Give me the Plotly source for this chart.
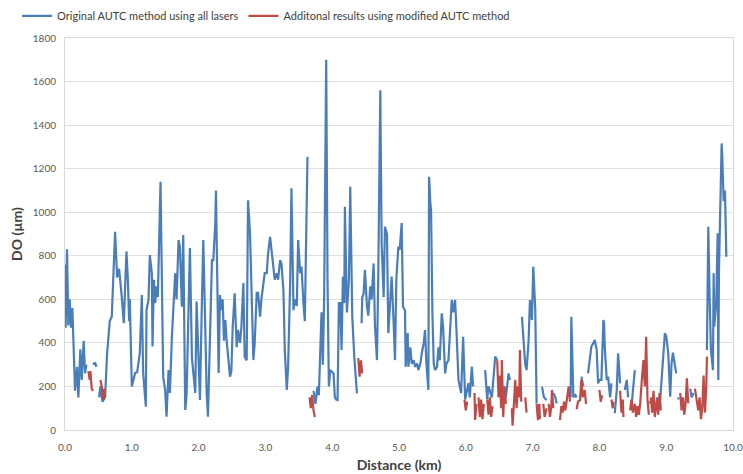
import plotly.graph_objects as go

N = None
# Blue series: Original AUTC method using all lasers (distance km, DO µm); None = gap
blue_x = [0.00,0.01,0.03,0.05,0.07,0.09,0.11,0.13,0.15,0.18,0.20,0.23,0.25,0.28,0.30,0.32,N,
          0.42,0.45,0.47,N,
          0.51,0.53,0.56,0.60,0.63,0.67,0.70,0.75,0.78,0.81,0.85,0.88,0.92,0.94,0.96,0.97,1.00,
          1.05,1.08,1.12,1.15,1.17,1.21,1.22,1.25,1.27,1.30,1.31,1.33,1.35,1.37,1.39,1.43,1.46,1.47,1.50,1.52,1.55,1.57,1.60,
          1.65,1.67,1.70,1.72,1.75,1.77,1.80,1.82,1.83,1.87,1.90,1.92,1.95,1.97,1.99,2.02,2.05,2.07,2.10,2.12,2.14,2.15,2.17,
          2.20,2.22,2.25,2.26,2.27,2.30,2.32,2.34,2.36,2.38,2.40,2.42,2.47,2.49,2.51,2.54,2.57,2.59,2.62,2.64,2.67,2.69,2.72,
          2.74,2.77,2.79,2.82,2.84,2.87,2.89,2.92,2.94,2.97,2.99,3.02,3.04,3.07,3.09,3.12,3.14,3.17,3.19,3.22,3.24,3.27,3.29,
          3.32,3.34,3.37,3.39,3.42,3.44,3.47,3.49,3.52,3.54,3.57,3.59,3.63,N,
          3.72,3.75,3.78,3.80,3.84,3.86,3.88,3.91,3.93,3.95,3.97,4.02,4.04,4.06,4.08,4.10,4.12,4.14,4.16,4.18,4.19,4.22,4.25,
          4.27,4.30,4.33,4.37,N,
          4.44,4.45,4.47,4.49,4.52,4.54,4.57,4.59,4.62,4.64,4.67,4.69,4.72,4.74,4.77,4.79,4.82,4.84,4.87,4.89,4.92,4.94,4.96,
          4.99,5.01,5.04,5.06,5.09,5.10,5.13,5.14,5.17,5.19,5.22,5.24,5.27,5.29,5.32,5.34,5.37,5.39,5.41,5.44,5.45,5.47,5.48,
          5.50,5.52,5.54,5.57,5.59,5.61,5.64,5.66,5.69,5.71,5.74,5.76,5.79,5.81,5.84,5.86,5.89,5.91,5.93,5.96,5.99,6.01,6.04,
          6.06,6.09,6.11,N,
          6.29,6.32,6.34,6.37,6.39,6.42,6.44,6.47,N,
          6.57,6.60,6.64,6.66,N,
          6.84,6.86,6.89,6.91,6.94,6.96,6.99,7.01,7.04,7.06,N,
          7.14,7.17,7.21,N,7.31,7.34,7.36,N,
          7.51,N,7.57,7.58,7.61,7.64,7.66,N,7.73,7.76,N,
          7.83,7.86,7.88,7.91,7.93,7.96,7.98,8.00,8.03,8.06,8.07,8.08,8.11,8.13,8.16,8.18,N,
          8.23,8.26,8.28,8.31,N,8.38,8.41,8.43,N,8.48,8.51,8.53,N,
          8.75,8.78,N,8.86,8.88,8.91,8.95,8.98,9.00,9.03,9.06,9.08,9.10,9.13,9.15,N,
          9.18,9.185,N,9.36,9.38,9.41,N,
          9.61,9.63,9.65,9.67,9.70,9.71,9.72,9.75,9.77,9.78,9.79,9.81,9.83,9.84,9.85,9.86,9.88,9.90]
blue_y = [760,470,830,480,600,470,560,300,180,290,150,370,230,410,260,300,N,
          300,310,290,N,
          150,200,130,150,350,500,520,910,700,740,610,490,820,700,500,600,200,
          262,265,353,620,262,107,551,597,803,720,383,690,583,660,610,1140,400,245,180,61,275,170,428,
          720,600,872,840,566,895,92,160,300,836,330,270,170,590,360,138,597,872,470,175,61,170,413,
          780,780,950,1100,900,262,620,550,600,410,505,410,245,270,470,628,380,460,400,470,675,335,320,
          1055,900,670,321,400,630,630,520,600,690,720,720,810,887,825,750,690,720,690,780,765,640,370,
          184,290,670,1110,550,600,570,872,720,750,580,500,1255,N,
          180,120,200,160,540,300,620,1700,700,200,275,260,150,140,138,583,583,367,704,583,1025,540,690,
          1117,525,340,168,N,
          490,610,625,735,570,525,660,600,765,480,321,720,1560,860,610,933,900,445,600,705,490,321,690,
          842,827,950,566,550,291,445,290,380,305,320,290,305,275,305,350,400,459,305,184,1163,1040,1010,
          540,305,275,290,380,320,536,475,260,305,320,415,597,540,597,460,230,200,170,428,140,170,215,
          150,291,200,N,
          275,140,200,170,150,260,337,320,N,
          200,150,260,230,N,
          520,410,300,275,410,597,505,750,551,122,N,
          199,150,137,N,170,150,122,N,
          153,N,150,520,150,160,150,N,245,200,N,
          260,330,383,400,413,367,214,230,230,505,490,383,230,245,150,214,N,
          77,184,352,214,N,184,230,150,N,107,200,275,N,
          122,140,N,150,120,140,300,444,430,355,153,306,355,306,260,N,
          140,150,N,190,150,170,N,
          367,933,610,367,275,720,475,595,903,230,735,1085,1316,1255,1085,1050,1100,796]

# Red series: Additional results using modified AUTC method
red_x = [0.35,0.37,0.38,0.40,0.42,N,
         0.53,0.55,0.57,0.59,0.60,N,
         3.66,3.68,3.70,3.72,3.74,N,
         4.39,4.41,4.43,4.45,N,
         5.98,6.00,6.02,N,
         6.13,6.14,6.16,N,6.19,6.21,6.23,6.25,6.27,N,6.32,6.34,6.36,6.38,6.40,N,
         6.47,6.49,6.51,6.53,6.54,6.56,6.58,6.60,N,
         6.69,6.70,6.72,6.74,6.76,6.78,6.80,6.81,6.83,N,6.89,6.91,N,
         7.06,7.08,7.10,7.11,N,7.16,7.18,7.21,N,7.24,7.26,7.28,7.29,7.31,N,
         7.41,7.43,7.45,7.47,7.49,7.52,7.54,7.56,N,
         7.66,7.68,7.71,7.73,7.75,7.78,7.80,N,
         8.00,8.02,8.04,N,8.18,8.20,8.21,N,8.31,8.33,8.35,8.36,N,
         8.46,8.48,8.50,8.53,8.55,8.57,8.59,8.61,8.64,8.66,8.68,8.70,8.72,8.74,N,
         8.77,8.79,8.81,8.83,8.86,8.88,8.90,8.92,N,
         9.21,9.23,9.25,9.27,9.29,9.31,9.33,N,
         9.43,9.45,9.48,9.50,9.52,9.54,9.56,9.58,9.60,9.61]
red_y = [270,230,270,190,180,N,
         230,200,140,190,150,N,
         150,100,160,90,60,N,
         330,245,320,260,N,
         140,90,130,N,
         170,46,120,N,150,60,140,50,120,N,140,70,150,60,110,N,
         320,150,250,100,321,60,200,120,N,
         100,20,120,230,100,200,150,367,130,N,150,80,N,
         120,45,120,50,N,120,60,100,N,120,60,110,184,100,N,
         45,110,80,130,90,150,200,130,N,
         95,130,137,230,150,184,120,N,
         184,130,160,N,140,100,130,N,180,80,140,60,N,
         90,140,80,120,60,110,70,120,250,321,200,428,140,70,N,
         150,80,180,60,140,70,170,90,N,
         170,90,150,70,120,237,123,N,
         190,150,90,150,50,100,250,80,200,337]

y_ticks = [0, 200, 400, 600, 800, 1000, 1200, 1400, 1600, 1800]
x_ticks = [0, 1, 2, 3, 4, 5, 6, 7, 8, 9, 10]

BLUE = "#4a7ebb"
RED = "#be4b48"
FONT = "Lato, 'Open Sans', sans-serif"

fig = go.Figure()
fig.add_trace(go.Scatter(x=blue_x, y=blue_y, mode="lines", name="Original AUTC method using all lasers",
                         line=dict(color=BLUE, width=2.2)))
fig.add_trace(go.Scatter(x=red_x, y=red_y, mode="lines", name="Additonal results using modified AUTC method",
                         line=dict(color=RED, width=2.2)))

fig.update_layout(
    width=743, height=474,
    margin=dict(l=65, r=10, t=38, b=44, autoexpand=False),
    paper_bgcolor="white", plot_bgcolor="white",
    font=dict(family=FONT, color="#595959"),
    showlegend=True,
    legend=dict(orientation="h", xref="container", yref="container",
                x=0.023, xanchor="left", y=0.997, yanchor="top",
                font=dict(size=11, color="#404040"), itemwidth=30, tracegroupgap=0,
                bgcolor="rgba(0,0,0,0)"),
)
fig.update_xaxes(range=[0, 10], tickvals=x_ticks, tickformat=".1f", automargin=False,
                 ticklabeloverflow="allow",
                 showgrid=False, zeroline=False, showline=True, linecolor="#d9d9d9", mirror=True,
                 ticks="", ticklabelstandoff=8, tickfont=dict(size=10, color="#595959"),
                 title=dict(text="<b>Distance (km)</b>", font=dict(size=14, color="#404040"), standoff=8))
fig.update_yaxes(range=[0, 1800], tickvals=y_ticks, automargin=False,
                 showgrid=True, gridcolor="#e0e0e0", gridwidth=1, zeroline=False,
                 showline=True, linecolor="#d9d9d9", mirror=True,
                 ticks="", ticklabelstandoff=6, tickfont=dict(size=10, color="#595959"),
                 title=dict(text="<b>DO (µm)</b>", font=dict(size=14, color="#404040"), standoff=6))

fig.write_html("out.html", config={"displayModeBar": False},
               post_script="document.body.style.margin='0';document.body.style.overflow='hidden';")
